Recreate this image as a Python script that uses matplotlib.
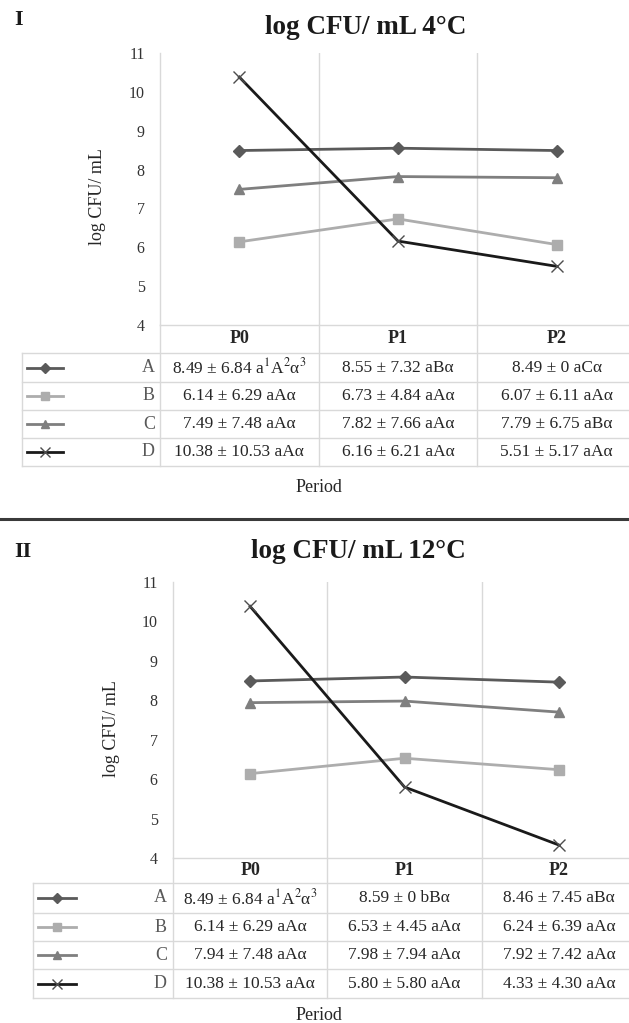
import matplotlib
matplotlib.use("Agg")
import matplotlib.pyplot as plt
from matplotlib.lines import Line2D
from matplotlib.transforms import blended_transform_factory

plt.rcParams['font.family'] = ['Liberation Serif', 'DejaVu Serif']
plt.rcParams['mathtext.fontset'] = 'stix'

# data
periods = ['P0', 'P1', 'P2']
groups = ['A', 'B', 'C', 'D']

# plotted means, 4 C
a_4 = [8.49, 8.55, 8.49]
b_4 = [6.14, 6.73, 6.07]
c_4 = [7.49, 7.82, 7.79]
d_4 = [10.38, 6.16, 5.51]
# plotted means, 12 C
a_12 = [8.49, 8.59, 8.46]
b_12 = [6.14, 6.53, 6.24]
c_12 = [7.94, 7.98, 7.70]
d_12 = [10.38, 5.80, 4.33]

# table text
cells_4_a = ['8.49 ± 6.84 a$^{1}$A$^{2}$α$^{3}$', '8.55 ± 7.32 aBα', '8.49 ± 0 aCα']
cells_4_b = ['6.14 ± 6.29 aAα', '6.73 ± 4.84 aAα', '6.07 ± 6.11 aAα']
cells_4_c = ['7.49 ± 7.48 aAα', '7.82 ± 7.66 aAα', '7.79 ± 6.75 aBα']
cells_4_d = ['10.38 ± 10.53 aAα', '6.16 ± 6.21 aAα', '5.51 ± 5.17 aAα']
cells_12_a = ['8.49 ± 6.84 a$^{1}$A$^{2}$α$^{3}$', '8.59 ± 0 bBα', '8.46 ± 7.45 aBα']
cells_12_b = ['6.14 ± 6.29 aAα', '6.53 ± 4.45 aAα', '6.24 ± 6.39 aAα']
cells_12_c = ['7.94 ± 7.48 aAα', '7.98 ± 7.94 aAα', '7.92 ± 7.42 aAα']
cells_12_d = ['10.38 ± 10.53 aAα', '5.80 ± 5.80 aAα', '4.33 ± 4.30 aAα']

yticks = [4, 5, 6, 7, 8, 9, 10, 11]

W, H = 629, 1023
GRID = '#d9d9d9'
TXT = '#262626'
styles = [
    dict(color='#5a5a5a', marker='D', ms=6, lw=2.0),
    dict(color='#adadad', marker='s', ms=6.5, lw=2.0),
    dict(color='#7f7f7f', marker='^', ms=7.5, lw=2.0),
    dict(color='#1a1a1a', marker='x', ms=9, lw=2.0, mew=1.0, mec='#4d4d4d'),
]

fig = plt.figure(figsize=(W / 100, H / 100), dpi=100)


def fx(x):
    return x / W


def fy(y):
    return 1 - y / H


def panel(box, series, cells, roman, roman_xy, title, title_xy, ylab_xy,
          rows, tab_left, sample, letter_x, period_y):
    left, right, top, bottom = box
    ax = fig.add_axes([fx(left), fy(bottom), fx(right - left), (bottom - top) / H])
    x = list(range(len(periods)))
    for vals, st in zip(series, styles):
        ax.plot(x, vals, **st, zorder=3)
    ax.set_xlim(-0.5, 2.5)
    ax.set_ylim(4, 11)
    ax.set_yticks(yticks)
    ax.set_xticks([])
    ax.tick_params(axis='y', length=0, pad=11, labelsize=11.5, labelcolor='#333333')
    for s in ['top', 'right']:
        ax.spines[s].set_visible(False)
    for s in ['left', 'bottom']:
        ax.spines[s].set_color(GRID)
        ax.spines[s].set_linewidth(1)
    for g in [0.5, 1.5]:
        ax.axvline(g, color=GRID, lw=1, zorder=1)

    # table below the plot
    tr = blended_transform_factory(ax.transData, fig.transFigure)
    for g in [-0.5, 0.5, 1.5]:
        fig.add_artist(Line2D([g, g], [fy(bottom), fy(rows[-1])], transform=tr,
                              color=GRID, lw=1))
    fig.add_artist(Line2D([fx(tab_left), fx(tab_left)], [fy(rows[0]), fy(rows[-1])],
                          transform=fig.transFigure, color=GRID, lw=1))
    for r in rows:
        fig.add_artist(Line2D([fx(tab_left), 1], [fy(r), fy(r)],
                              transform=fig.transFigure, color=GRID, lw=1))
    hy = (bottom + rows[0]) / 2
    for i, p in enumerate(periods):
        fig.text(i, fy(hy), p, transform=tr, ha='center', va='center',
                 fontsize=13, fontweight='bold', color=TXT)
    for k, (grp, row_cells, st) in enumerate(zip(groups, cells, styles)):
        cy = fy((rows[k] + rows[k + 1]) / 2)
        fig.add_artist(Line2D([fx(sample[0]), fx(sample[1])], [cy, cy],
                              transform=fig.transFigure, color=st['color'], lw=2.0))
        fig.add_artist(Line2D([fx((sample[0] + sample[1]) / 2)], [cy],
                              transform=fig.transFigure, color=st['color'],
                              marker=st['marker'], ms=st['ms'] * 0.85,
                              mew=st.get('mew', 1.0), mec=st.get('mec', st['color']),
                              lw=0))
        fig.text(fx(letter_x), cy, grp, ha='right', va='center', fontsize=13,
                 color='#595959')
        for i, c in enumerate(row_cells):
            fig.text(i, cy, c, transform=tr, ha='center', va='center',
                     fontsize=12.5, color=TXT)

    fig.text(fx(319), fy(period_y), 'Period', ha='center', va='center',
             fontsize=13, color=TXT)
    fig.text(fx(roman_xy[0]), fy(roman_xy[1]), roman, ha='left', va='center',
             fontsize=16, fontweight='bold', color='#1a1a1a')
    fig.text(fx(title_xy[0]), fy(title_xy[1]), title, ha='center', va='center',
             fontsize=19.5, fontweight='bold', color='#1a1a1a')
    fig.text(fx(ylab_xy[0]), fy(ylab_xy[1]), 'log CFU/ mL', rotation=90,
             ha='center', va='center', fontsize=13, color=TXT)
    return ax


panel((160, 636, 53, 325), [a_4, b_4, c_4, d_4],
      [cells_4_a, cells_4_b, cells_4_c, cells_4_d],
      'I', (14, 20), 'log CFU/ mL 4°C', (366, 28), (98, 197),
      [353, 382, 410, 438, 466], 22, (27, 63), 155, 488)

panel((173, 636, 582, 858), [a_12, b_12, c_12, d_12],
      [cells_12_a, cells_12_b, cells_12_c, cells_12_d],
      'II', (14, 552), 'log CFU/ mL 12°C', (358, 552), (112, 729),
      [883, 913, 941, 969, 998], 33, (38, 76), 167, 1015)

# divider between the two panels
fig.add_artist(Line2D([0, 1], [fy(518.5), fy(518.5)], transform=fig.transFigure,
                      color='#3a3a3a', lw=2.2))

fig.savefig('out.png', dpi=100)
